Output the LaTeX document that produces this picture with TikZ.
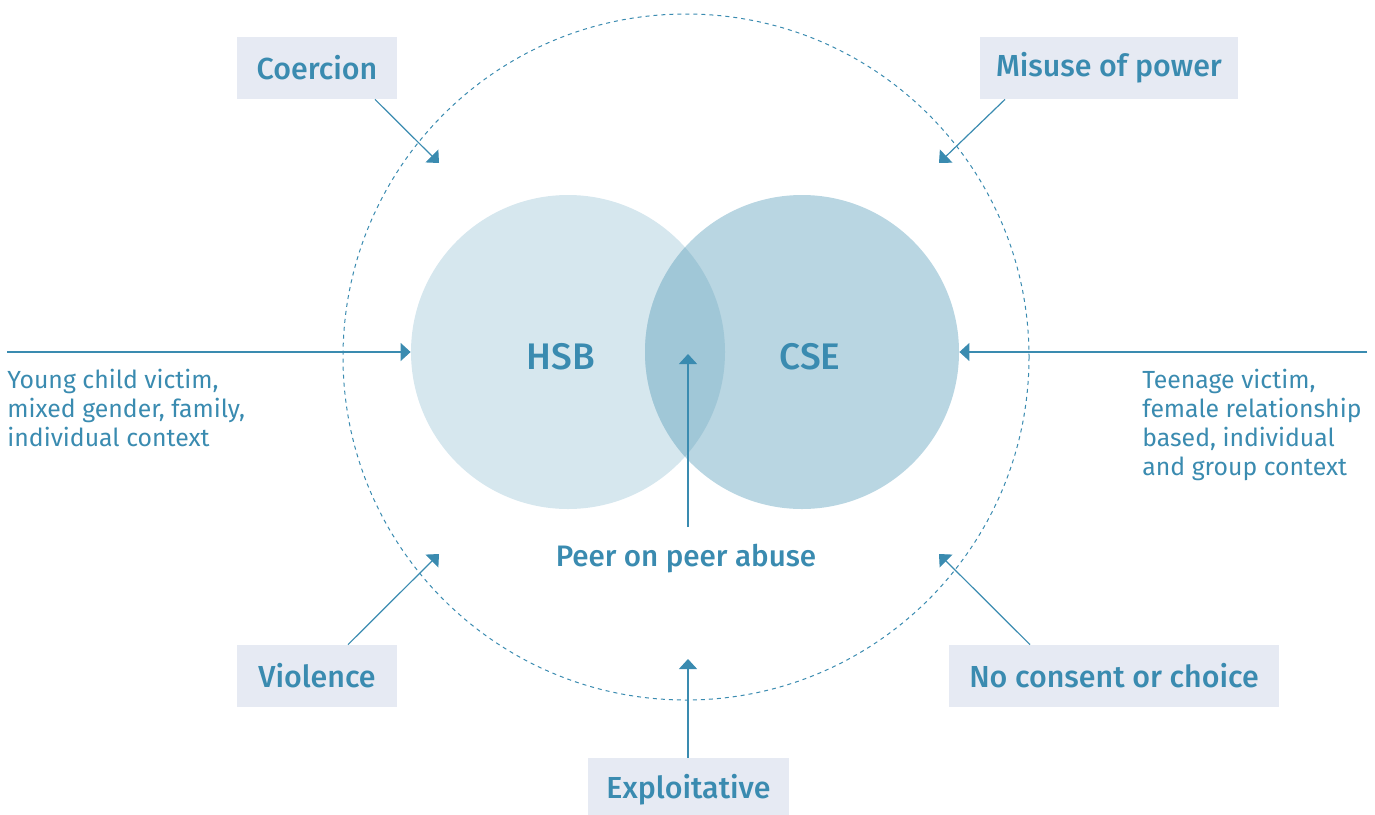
\documentclass[tikz,border=0pt]{standalone}
\usepackage{fontspec}
\setmainfont{Fira Sans}[BoldFont={Fira Sans Medium}]
\usetikzlibrary{arrows.meta,calc}
\definecolor{ink}{RGB}{58,139,176}
\definecolor{boxfill}{RGB}{230,234,243}
\definecolor{hsbfill}{RGB}{214,231,238}
\definecolor{csefill}{RGB}{185,214,226}
\definecolor{bothfill}{RGB}{160,199,215}
\tikzset{
  label box/.style={fill=boxfill, text=ink, font=\bfseries\fontsize{15.2}{17}\selectfont, inner sep=0pt},
  body text/.style={text=ink, font=\fontsize{12.4}{14.5}\selectfont, align=left, inner sep=0pt},
  conn/.style={draw=ink, line width=0.6pt, -{Triangle[width=9pt,length=5pt]}},
  big/.style={text=ink, font=\bfseries\fontsize{18.5}{20}\selectfont}
}
\begin{document}
\begin{tikzpicture}[x=0.5pt,y=-0.5pt]
\useasboundingbox (0,0) rectangle (1375,814);
% circles
\fill[hsbfill] (568,352) circle (157);
\fill[csefill] (802,352) circle (157);
\begin{scope}
  \clip (568,352) circle (157);
  \fill[bothfill] (802,352) circle (157);
\end{scope}
\draw[ink, line width=0.5pt, dash pattern=on 2pt off 2pt] (686,357) circle (343);
\node[draw=none, minimum size=157pt, circle] (hsb) at (568,352) {};
\node[draw=none, minimum size=157pt, circle] (cse) at (802,352) {};
\node[big] at (561,357) {HSB};
\node[big] at (810,357) {CSE};
% boxes
\node[label box, minimum width=80pt, minimum height=31pt] (coer) at (317,68) {Coercion};
\node[label box, minimum width=129pt, minimum height=31pt] (misuse) at (1109,68) {Misuse of power};
\node[label box, minimum width=80pt, minimum height=31pt] (viol) at (317,676) {Violence};
\node[label box, minimum width=165pt, minimum height=31pt] (nocons) at (1114,676) {No consent or choice};
\node[label box, minimum width=100.5pt, minimum height=32pt] (expl) at (688.5,790) {Exploitative};
\node[text=ink, font=\bfseries\fontsize{14.8}{17}\selectfont, inner sep=0pt] (peer) at (686,559) {Peer on peer abuse};
% texts
\node[body text, anchor=north west] (lefttxt) at (7,369) {Young child victim,\\mixed gender, family,\\individual context};
\node[body text, anchor=north west] (righttxt) at (1142,369) {Teenage victim,\\female relationship\\based, individual\\and group context};
% coordinates
\coordinate (lstart) at (7,352);
\coordinate (rstart) at (1367,352);
\coordinate (ctip) at (439,163);
\coordinate (mtip) at (939,163);
\coordinate (vtip) at (439,554);
\coordinate (ntip) at (939,554);
\coordinate (etip) at (688,659);
\coordinate (ptip) at (688,354);
\coordinate (pstart) at (688,527);
% connectors
\draw[conn] (lstart) -- (hsb.west);
\draw[conn] (rstart) -- (cse.east);
\draw[conn] ($(coer.south)+(58,0)$) -- (ctip);
\draw[conn] ($(misuse.south)+(-104,0)$) -- (mtip);
\draw[conn] ($(viol.north)+(31,0)$) -- (vtip);
\draw[conn] ($(nocons.north)+(-84,0)$) -- (ntip);
\draw[conn] (expl.north -| etip) -- (etip);
\draw[conn] (pstart) -- (ptip);
\end{tikzpicture}
\end{document}
